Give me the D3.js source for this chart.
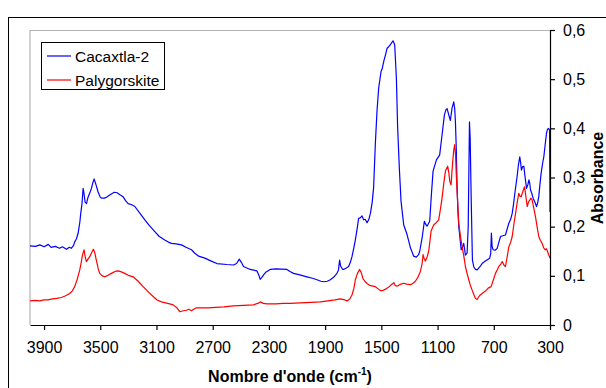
<!DOCTYPE html>
<html><head><meta charset="utf-8">
<script src="https://cdn.jsdelivr.net/npm/d3@7"></script>
<style>body{margin:0;background:#fff}svg{display:block}</style>
</head><body>
<svg id="c" width="606" height="388"></svg>
<script>
const seriesNames = ["Cacaxtla-2", "Palygorskite"];
const xTicks = [3900, 3500, 3100, 2700, 2300, 1900, 1500, 1100, 700, 300];
const yTicks = [0, 0.1, 0.2, 0.3, 0.4, 0.5, 0.6];

const blueWn = [4000,3960,3930,3900,3870,3850,3820,3790,3770,3740,3720,3706,3690,3682,3670,3658,3645,3639,3630,3622,3617,3608,3598,3587,3570,3563,3552,3544,3530,3516,3500,3492,3470,3456,3430,3400,3380,3360,3338,3320,3302,3280,3254,3220,3183,3150,3112,3080,3041,3010,2994,2960,2922,2890,2851,2827,2800,2756,2710,2670,2600,2552,2530,2511,2495,2481,2433,2385,2370,2362,2350,2338,2320,2291,2250,2172,2150,2125,2080,2030,1990,1958,1930,1911,1885,1863,1840,1816,1805,1797,1790,1775,1768,1750,1733,1720,1709,1695,1685,1670,1662,1650,1638,1626,1615,1602,1590,1578,1565,1555,1543,1531,1519,1510,1502,1495,1483,1470,1459,1448,1436,1425,1417,1405,1393,1384,1372,1360,1341,1317,1293,1270,1251,1235,1227,1210,1194,1185,1175,1156,1144,1132,1108,1085,1068,1051,1040,1032,1021,1009,997,985,978,973,967,961,955,949,940,932,923,914,908,902,890,882,878,873,868,861,852,842,830,818,800,783,760,729,722,717,712,705,690,676,664,652,630,617,605,593,580,569,560,550,534,525,515,509,503,495,486,477,467,458,450,444,439,430,420,405,396,388,380,372,363,352,344,335,325,318,311,303,301,300];
const blueAbs = [0.161,0.160,0.163,0.159,0.164,0.158,0.160,0.156,0.159,0.154,0.158,0.156,0.162,0.169,0.175,0.186,0.210,0.227,0.247,0.278,0.270,0.250,0.247,0.260,0.272,0.278,0.290,0.297,0.285,0.271,0.260,0.258,0.258,0.260,0.265,0.270,0.269,0.265,0.261,0.253,0.247,0.245,0.241,0.228,0.214,0.202,0.190,0.180,0.173,0.168,0.166,0.165,0.163,0.158,0.153,0.146,0.140,0.136,0.130,0.125,0.123,0.122,0.125,0.134,0.127,0.119,0.113,0.110,0.100,0.093,0.097,0.102,0.108,0.113,0.114,0.113,0.109,0.105,0.102,0.098,0.095,0.092,0.089,0.088,0.089,0.092,0.097,0.105,0.112,0.132,0.120,0.113,0.113,0.116,0.119,0.128,0.139,0.158,0.173,0.200,0.217,0.218,0.222,0.214,0.215,0.208,0.214,0.227,0.250,0.280,0.367,0.435,0.482,0.500,0.516,0.520,0.536,0.550,0.563,0.566,0.570,0.575,0.578,0.570,0.502,0.401,0.319,0.252,0.204,0.184,0.157,0.140,0.138,0.143,0.150,0.177,0.211,0.205,0.201,0.211,0.265,0.313,0.336,0.346,0.387,0.428,0.438,0.440,0.428,0.416,0.441,0.454,0.440,0.414,0.360,0.280,0.230,0.200,0.175,0.153,0.158,0.166,0.155,0.142,0.146,0.200,0.295,0.413,0.380,0.261,0.132,0.118,0.113,0.112,0.118,0.125,0.130,0.136,0.145,0.187,0.160,0.153,0.152,0.156,0.168,0.180,0.182,0.183,0.195,0.207,0.215,0.227,0.245,0.268,0.302,0.325,0.342,0.330,0.315,0.322,0.323,0.300,0.278,0.285,0.295,0.288,0.275,0.268,0.258,0.248,0.241,0.248,0.261,0.285,0.309,0.330,0.342,0.365,0.390,0.398,0.400,0.397,0.300,0.230];

const redWn = [4000,3960,3930,3900,3872,3840,3810,3777,3750,3718,3700,3682,3665,3646,3635,3627,3615,3608,3599,3590,3575,3560,3549,3540,3528,3515,3504,3485,3468,3445,3421,3395,3373,3350,3326,3300,3266,3230,3195,3160,3124,3095,3065,3020,2981,2955,2934,2910,2887,2870,2851,2830,2816,2770,2732,2680,2620,2552,2480,2410,2370,2362,2340,2314,2250,2200,2150,2077,2000,1934,1880,1830,1792,1760,1744,1725,1709,1695,1685,1670,1655,1645,1630,1615,1600,1578,1543,1520,1507,1490,1470,1459,1440,1425,1411,1400,1388,1370,1341,1320,1293,1275,1258,1240,1222,1210,1203,1195,1187,1175,1163,1146,1127,1110,1092,1080,1068,1055,1044,1028,1020,1013,1004,998,992,985,978,972,966,958,949,937,925,912,902,890,878,866,854,842,830,818,810,800,783,760,740,719,705,688,676,664,650,640,628,617,605,593,580,569,557,545,533,522,513,505,495,486,481,472,462,453,444,436,427,415,403,392,380,368,356,345,333,325,317,308,300];
const redAbs = [0.049,0.050,0.049,0.051,0.051,0.053,0.054,0.056,0.059,0.064,0.069,0.078,0.092,0.112,0.128,0.142,0.153,0.140,0.129,0.133,0.139,0.148,0.154,0.148,0.132,0.115,0.105,0.100,0.098,0.101,0.105,0.109,0.110,0.108,0.105,0.101,0.098,0.089,0.078,0.068,0.058,0.051,0.047,0.044,0.041,0.035,0.027,0.029,0.030,0.032,0.029,0.033,0.035,0.035,0.035,0.036,0.037,0.039,0.040,0.041,0.045,0.047,0.044,0.043,0.043,0.044,0.044,0.045,0.046,0.047,0.049,0.051,0.053,0.051,0.049,0.053,0.061,0.075,0.092,0.105,0.113,0.108,0.094,0.088,0.084,0.080,0.078,0.073,0.070,0.070,0.073,0.075,0.079,0.083,0.086,0.080,0.079,0.082,0.085,0.083,0.082,0.085,0.089,0.097,0.109,0.125,0.143,0.135,0.130,0.138,0.150,0.191,0.204,0.208,0.214,0.235,0.258,0.290,0.313,0.323,0.310,0.292,0.285,0.310,0.333,0.355,0.367,0.345,0.300,0.255,0.207,0.180,0.159,0.138,0.119,0.105,0.092,0.080,0.071,0.062,0.054,0.052,0.056,0.060,0.064,0.069,0.075,0.078,0.090,0.105,0.112,0.119,0.124,0.129,0.122,0.119,0.138,0.159,0.168,0.180,0.205,0.227,0.250,0.268,0.262,0.261,0.270,0.278,0.281,0.262,0.241,0.250,0.254,0.258,0.254,0.237,0.220,0.200,0.180,0.172,0.166,0.157,0.153,0.155,0.149,0.142,0.136];

const colors = ["#0000ff", "#ff0000"];
const FONT = "'Liberation Sans', Arial, sans-serif";

const svg = d3.select("#c");
const L = 30, R = 550, T = 30, B = 325;
const x = d3.scaleLinear().domain([4000, 300]).range([L, R]);
const y = d3.scaleLinear().domain([0, 0.6]).range([B, T]);

// outer chart border
svg.append("rect").attr("x", 8.5).attr("y", 17.5).attr("width", 700).attr("height", 500)
  .attr("fill", "none").attr("stroke", "#000").attr("stroke-width", 1);

// plot area border (grey)
svg.append("path").attr("d", `M${L},${B} V${T + 0.5} H${R}`)
  .attr("fill", "none").attr("stroke", "#b4b4b4").attr("stroke-width", 1.2);

// lines
const series = [
  blueWn.map((w, i) => [w, blueAbs[i]]),
  redWn.map((w, i) => [w, redAbs[i]])
];
const line = d3.line().x(d => x(d[0])).y(d => y(d[1]));
series.forEach((s, i) => {
  svg.append("path").datum(s).attr("d", line)
    .attr("fill", "none").attr("stroke", colors[i]).attr("stroke-width", 1.2)
    .attr("stroke-linejoin", "round");
});

// axes
const fmtY = d => d === 0 ? "0" : d3.format(".1f")(d).replace(".", ",");
const gx = svg.append("g").attr("transform", `translate(0,${B})`)
  .call(d3.axisBottom(x).tickValues(xTicks).tickFormat(d3.format("d")).tickSize(5).tickSizeOuter(0).tickPadding(12));
const gy = svg.append("g").attr("transform", `translate(${R},0)`)
  .call(d3.axisRight(y).tickValues(yTicks).tickFormat(fmtY).tickSize(5).tickSizeOuter(0).tickPadding(8));
[gx, gy].forEach(g => {
  g.select(".domain").attr("stroke", "#000").attr("stroke-width", 1.2);
  g.selectAll(".tick line").attr("stroke", "#000").attr("stroke-width", 1.2);
  g.selectAll("text").attr("font-family", FONT).attr("font-size", 16).attr("fill", "#000");
});

// x title
const xt = svg.append("text").attr("x", 290).attr("y", 382).attr("text-anchor", "middle")
  .attr("font-family", FONT).attr("font-size", 16).attr("font-weight", "bold");
xt.append("tspan").text("Nombre d'onde (cm");
xt.append("tspan").attr("font-size", 10).attr("dy", -7).text("-1");
xt.append("tspan").attr("dy", 7).text(")");

// y title
svg.append("text").attr("transform", "translate(603,178) rotate(-90)")
  .attr("text-anchor", "middle").attr("font-family", FONT).attr("font-size", 16)
  .attr("font-weight", "bold").text("Absorbance");

// legend
const lg = svg.append("g");
lg.append("rect").attr("x", 41.5).attr("y", 42.5).attr("width", 123).attr("height", 47)
  .attr("fill", "#fff").attr("stroke", "#000").attr("stroke-width", 1);
seriesNames.forEach((n, i) => {
  const yy = 56 + i * 24;
  lg.append("line").attr("x1", 47).attr("x2", 71).attr("y1", yy).attr("y2", yy)
    .attr("stroke", colors[i]).attr("stroke-width", 1.2);
  lg.append("text").attr("x", 75).attr("y", yy + 5.5).attr("font-family", FONT)
    .attr("font-size", 15.5).text(n);
});
</script>
</body></html>
